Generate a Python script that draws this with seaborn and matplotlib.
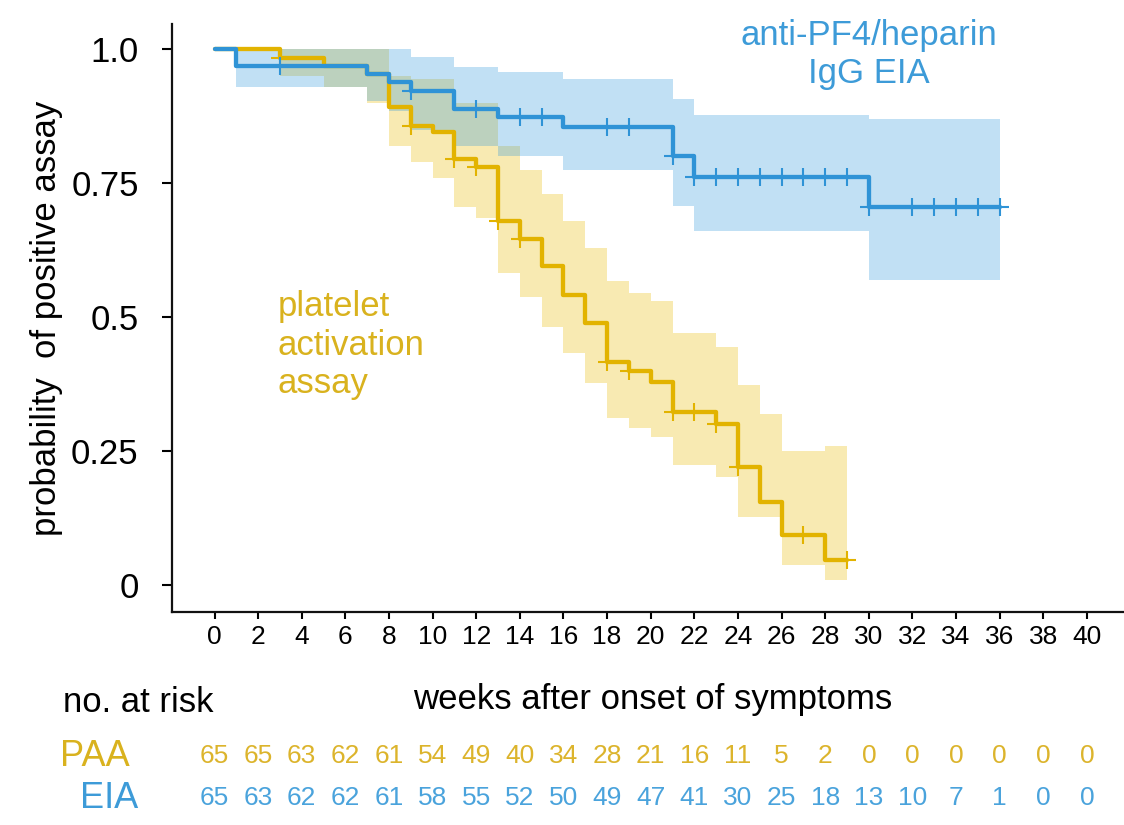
import numpy as np
import matplotlib
matplotlib.use("Agg")
import matplotlib.pyplot as plt
import matplotlib.transforms as mtransforms
import seaborn as sns

# Kaplan-Meier style step curves (step start times, weeks)
eia_time = [0, 1, 7, 8, 9, 11, 13, 16, 21, 22, 30, 36]
eia_surv = [1.0, 0.968, 0.953, 0.938, 0.921, 0.888, 0.873, 0.855, 0.80, 0.762, 0.705, 0.705]
eia_upper = [1.0, 1.0, 1.0, 1.0, 0.985, 0.967, 0.958, 0.944, 0.907, 0.877, 0.869, 0.869]
eia_lower = [1.0, 0.929, 0.903, 0.885, 0.85, 0.82, 0.80, 0.775, 0.707, 0.66, 0.57, 0.57]
eia_censored = [3, 9, 12, 14, 15, 18, 19, 21, 22, 23, 24, 25, 26, 27, 28, 29, 30, 32, 33, 34, 35, 36]

paa_time = [0, 3, 5, 7, 8, 9, 10, 11, 12, 13, 14, 15, 16, 17, 18, 19, 20, 21, 23, 24, 25, 26, 28, 29]
paa_surv = [1.0, 0.983, 0.968, 0.953, 0.892, 0.857, 0.845, 0.795, 0.78, 0.68, 0.645, 0.595,
            0.542, 0.49, 0.417, 0.40, 0.38, 0.324, 0.30, 0.22, 0.155, 0.093, 0.047, 0.047]
paa_upper = [1.0, 1.0, 1.0, 1.0, 0.95, 0.945, 0.945, 0.90, 0.90, 0.82, 0.775, 0.73,
             0.68, 0.63, 0.567, 0.545, 0.53, 0.47, 0.445, 0.374, 0.32, 0.25, 0.26, 0.26]
paa_lower = [1.0, 0.95, 0.93, 0.90, 0.82, 0.79, 0.76, 0.705, 0.685, 0.583, 0.538, 0.482,
             0.434, 0.378, 0.312, 0.293, 0.277, 0.224, 0.202, 0.127, 0.127, 0.037, 0.01, 0.01]
paa_censored = [3, 9, 11, 12, 13, 14, 18, 19, 21, 22, 23, 24, 27, 29]

risk_weeks = list(range(0, 41, 2))
paa_at_risk = [65, 65, 63, 62, 61, 54, 49, 40, 34, 28, 21, 16, 11, 5, 2, 0, 0, 0, 0, 0, 0]
eia_at_risk = [65, 63, 62, 62, 61, 58, 55, 52, 50, 49, 47, 41, 30, 25, 18, 13, 10, 7, 1, 0, 0]

BLUE = "#2f93d6"
YELLOW = "#e2b300"
BLUE_TXT = "#3d9bd8"
YELLOW_TXT = "#d9b21e"

sns.set_style("ticks")
plt.rcParams["font.family"] = ["Liberation Sans", "DejaVu Sans"]
plt.rcParams["text.color"] = "black"
plt.rcParams["axes.labelcolor"] = "black"
plt.rcParams["xtick.color"] = "black"
plt.rcParams["ytick.color"] = "black"

fig = plt.figure(figsize=(11.24, 8.25), dpi=100)
ax = fig.add_axes([0.153, 0.258, 0.847, 0.713])


def censor_y(times, surv, cens):
    idx = np.searchsorted(times, cens, side="right") - 1
    return np.asarray(surv)[idx]


ax.fill_between(paa_time, paa_lower, paa_upper, step="post", color="#e8bb00", alpha=0.3, lw=0)
ax.fill_between(eia_time, eia_lower, eia_upper, step="post", color="#3399dd", alpha=0.3, lw=0)

sns.lineplot(x=paa_time, y=paa_surv, drawstyle="steps-post", estimator=None,
             color=YELLOW, lw=3.1, ax=ax)
sns.lineplot(x=eia_time, y=eia_surv, drawstyle="steps-post", estimator=None,
             color=BLUE, lw=3.1, ax=ax)
sns.scatterplot(x=paa_censored, y=censor_y(paa_time, paa_surv, paa_censored),
                marker="+", s=180, color=YELLOW, linewidth=1.5, ax=ax, zorder=4)
sns.scatterplot(x=eia_censored, y=censor_y(eia_time, eia_surv, eia_censored),
                marker="+", s=180, color=BLUE, linewidth=1.5, ax=ax, zorder=4)

ax.set_xlim(-1.95, 41.7)
ax.set_ylim(-0.05, 1.047)
ax.set_xticks(risk_weeks)
ax.set_xticklabels([str(w) for w in risk_weeks])
ax.set_yticks([0, 0.25, 0.5, 0.75, 1.0])
ax.set_yticklabels(["0", "0.25", "0.5", "0.75", "1.0"])
ax.tick_params(axis="y", labelsize=25, length=7, width=1.5, pad=17, direction="out")
ax.tick_params(axis="x", labelsize=19, length=5, width=1.5, pad=4, direction="out")
for side in ["left", "bottom"]:
    ax.spines[side].set_linewidth(1.6)
    ax.spines[side].set_color("#111111")
sns.despine(ax=ax)

ax.set_ylabel("probability  of positive assay", fontsize=25, labelpad=6)
ax.set_xlabel("weeks after onset of symptoms", fontsize=25)
ax.xaxis.set_label_coords(0.505, -0.12)

ax.text(30, 0.99, "anti-PF4/heparin\nIgG EIA", color=BLUE_TXT, fontsize=25,
        ha="center", va="center", linespacing=1.2)
ax.text(2.9, 0.448, "platelet\nactivation\nassay", color=YELLOW_TXT, fontsize=25,
        ha="left", va="center", linespacing=1.2)

# number at risk table below the axis
fig.text(63 / 1124, 1 - 702 / 825, "no. at risk", fontsize=25, ha="left", va="center")
fig.text(60 / 1124, 1 - 757 / 825, "PAA", fontsize=26, color=YELLOW_TXT, ha="left", va="center")
fig.text(80 / 1124, 1 - 798 / 825, "EIA", fontsize=26, color=BLUE_TXT, ha="left", va="center")
trans = mtransforms.blended_transform_factory(ax.transData, fig.transFigure)
for w, p, e in zip(risk_weeks, paa_at_risk, eia_at_risk):
    ax.text(w, 1 - 756 / 825, str(p), transform=trans, fontsize=19, color="#dcb42c",
            ha="center", va="center")
    ax.text(w, 1 - 798 / 825, str(e), transform=trans, fontsize=19, color="#4aa3dc",
            ha="center", va="center")

fig.savefig("out.png", dpi=100)
